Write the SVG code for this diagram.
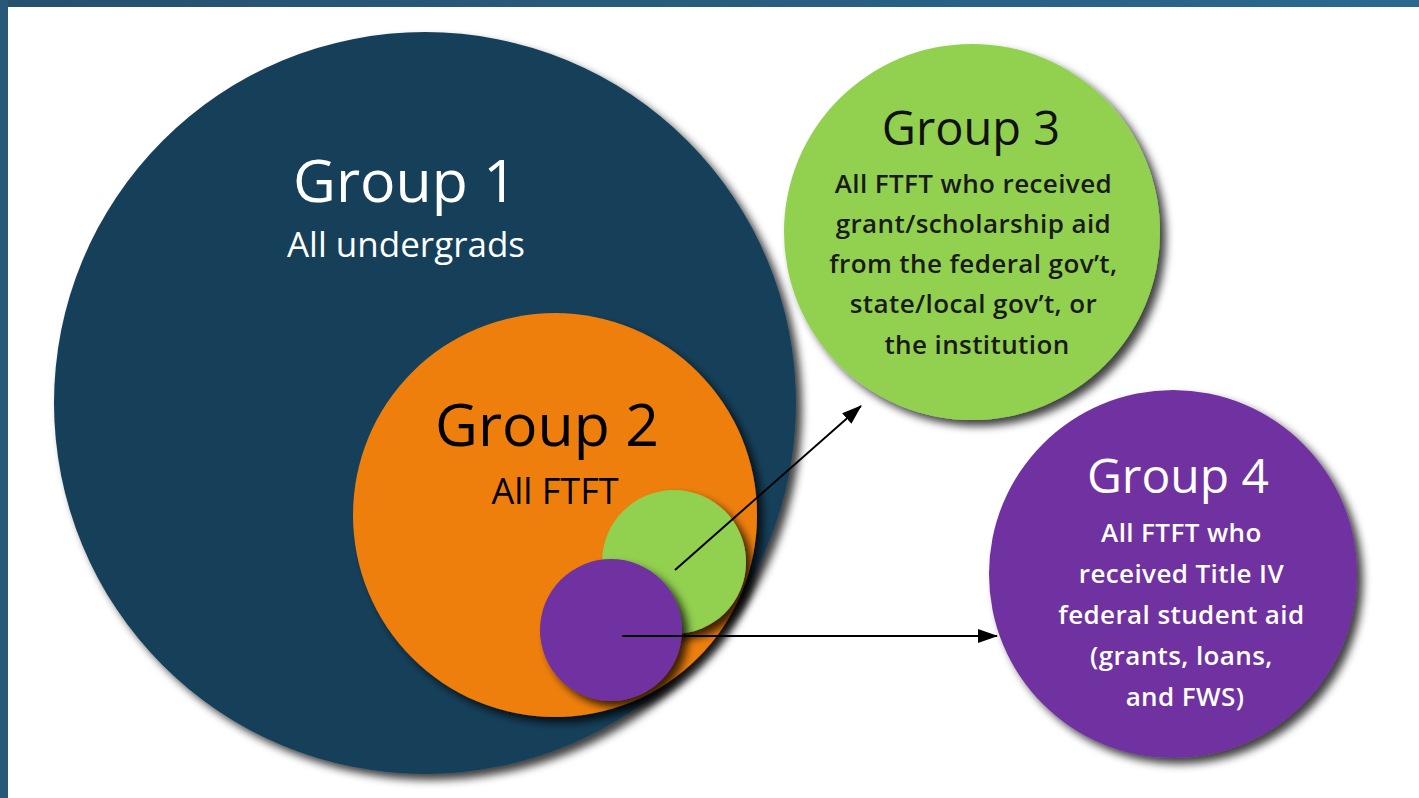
<svg xmlns="http://www.w3.org/2000/svg" width="1419" height="798" viewBox="0 0 1419 798">
  <defs>
    <linearGradient id="band" x1="0" y1="0" x2="1" y2="0">
      <stop offset="0" stop-color="#26506e"/>
      <stop offset="1" stop-color="#2b6890"/>
    </linearGradient>
    <filter id="shadow" x="-20%" y="-20%" width="140%" height="140%">
      <feDropShadow dx="6" dy="6" stdDeviation="4" flood-color="#000" flood-opacity="0.75"/>
    </filter>
    <marker id="arrow" viewBox="0 0 20 14" refX="19" refY="7" markerWidth="20" markerHeight="14" markerUnits="userSpaceOnUse" orient="auto">
      <path d="M0,0 L20,7 L0,14 Z" fill="#000"/>
    </marker>
    <style>
      .big { font-family: "Open Sans", "Liberation Sans", sans-serif; text-anchor: middle; }
      .small { font-family: "Open Sans", "Liberation Sans", sans-serif; text-anchor: middle; font-weight: 600; font-size: 26px; letter-spacing: 0.4px; }
      .conn { stroke: #000; stroke-width: 2; fill: none; marker-end: url(#arrow); }
    </style>
  </defs>
  <rect x="0" y="0" width="1419" height="798" fill="#ffffff"/>
  <rect x="0" y="0" width="1419" height="7" fill="url(#band)"/>
  <rect x="0" y="0" width="8" height="798" fill="#285878"/>

  <g id="group1">
    <circle cx="425" cy="403" r="371" fill="#163f5a" filter="url(#shadow)"/>
    <text class="big" x="405" y="202" font-size="59" fill="#ffffff">Group 1</text>
    <text class="big" x="406" y="257" font-size="35" fill="#ffffff">All undergrads</text>
  </g>

  <g id="group2">
    <circle cx="555" cy="515" r="202" fill="#ee7f0b" filter="url(#shadow)"/>
    <text class="big" x="547" y="446" font-size="59" fill="#000000">Group 2</text>
    <text class="big" x="555" y="504" font-size="36" fill="#000000">All FTFT</text>
  </g>

  <g id="group3-small">
    <circle cx="674" cy="562" r="72" fill="#92d050" filter="url(#shadow)"/>
  </g>

  <g id="group4-small">
    <circle cx="611" cy="630" r="71" fill="#7030a0" filter="url(#shadow)"/>
  </g>

  <g id="group3">
    <circle cx="972" cy="232" r="188" fill="#92d050" filter="url(#shadow)"/>
    <text class="big" x="971" y="145" font-size="47" fill="#111111">Group 3</text>
    <text class="small" fill="#1a1a1a">
      <tspan x="977" y="193">All FTFT who received</tspan>
      <tspan x="977" y="233">grant/scholarship aid</tspan>
      <tspan x="977" y="273">from the federal gov’t,</tspan>
      <tspan x="977" y="313">state/local gov’t, or</tspan>
      <tspan x="977" y="354">the institution</tspan>
    </text>
  </g>

  <g id="group4">
    <circle cx="1173" cy="574" r="184" fill="#7030a0" filter="url(#shadow)"/>
    <text class="big" x="1178" y="493" font-size="48" fill="#ffffff">Group 4</text>
    <text class="small" fill="#ffffff">
      <tspan x="1185" y="542">All FTFT who</tspan>
      <tspan x="1185" y="583">received Title IV</tspan>
      <tspan x="1185" y="624">federal student aid</tspan>
      <tspan x="1185" y="665">(grants, loans,</tspan>
      <tspan x="1185" y="706">and FWS)</tspan>
    </text>
  </g>

  <g id="connectors">
    <line class="conn" x1="675" y1="570" x2="861" y2="406"/>
    <line class="conn" x1="622" y1="636" x2="997" y2="636"/>
  </g>
</svg>
